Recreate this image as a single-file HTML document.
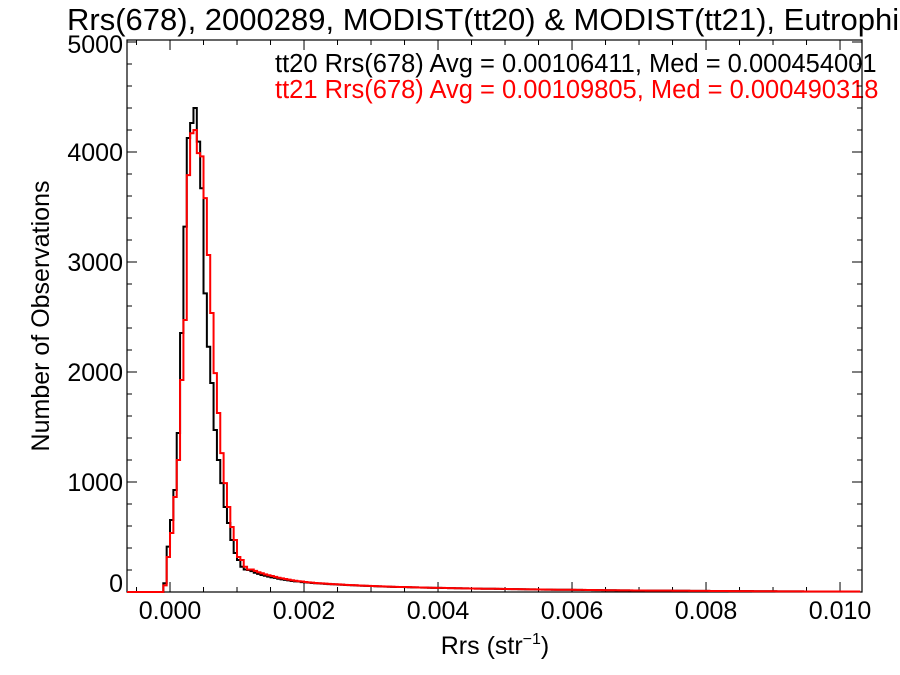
<!DOCTYPE html>
<html><head><meta charset="utf-8"><style>
body{margin:0;background:#fff;overflow:hidden}
svg{display:block;font-family:"Liberation Sans",sans-serif}
</style></head><body>
<svg id="chart" width="900" height="675" viewBox="0 0 900 675">
<text x="67" y="30" font-size="31">Rrs(678), 2000289, MODIST(tt20) &amp; MODIST(tt21), Eutrophic</text>
<text x="275" y="72" font-size="25.5" fill="#000">tt20 Rrs(678) Avg = 0.00106411, Med = 0.000454001</text>
<text x="275" y="98" font-size="25.5" fill="#ff0000">tt21 Rrs(678) Avg = 0.00109805, Med = 0.000490318</text>
<text x="495" y="654" font-size="25" text-anchor="middle">Rrs (str<tspan dy="-10" font-size="16">−1</tspan><tspan dy="10">)</tspan></text>
<text transform="translate(49,316) rotate(-90)" font-size="25" text-anchor="middle">Number of Observations</text>
<g id="axes"></g>
<g id="series"></g>
</svg>
<script>
const binStart = -0.0001;
const binWidth = 0.00005;
const blackPeak = [79,412,655,927,1445,2355,3321,4127,4264,4400,4094,3670,2715,2230,1900,1473,1200,990,773,627,473,355,291,230,205,200];
const redPeak = [60,318,536,864,1200,1927,2473,3790,4170,4200,3990,3960,3580,3064,2536,1990,1627,1263,990,773,591,473,318,291,230,205];
const blackTail = [190,175,165,155,148,140,133,128,120,115,110,106,100,97,95,90,88,85,82,80,78,76,74,72,70,69,67,66,64,62,61,60,58,57,56,55,54,52,51,50,49,48,47,46,46,45,44,43,42,42,41,40,40,39,38,38,37,36,36,35,35,34,34,33,33,32,32,31,31,30,30,29,29,28,28,27,27,26,26,26,25,25,24,24,24,23,23,22,22,22,21,21,21,20,20,20,19,19,19,18,18,18,17,17,17,16,16,16,16,15,15,15,15,14,14,14,14,13,13,13,13,12,12,12,12,12,11,11,11,11,11,10,10,10,10,10,10,9,9,9,9,9,9,8,8,8,8,8,8,8,7,7,7,7,7,7,7,6,6,6,6,6,6,6,6,5,5,5,5,5,5,5,5,5,5,5,4,4,4,4,4,4];
const redTail = [205,192,180,170,160,152,145,138,130,124,118,112,107,102,98,95,91,88,85,82,80,78,76,74,72,70,69,67,65,64,62,61,59,58,57,56,54,53,52,51,50,49,48,47,46,45,45,44,43,42,41,41,40,39,39,38,37,37,36,35,35,34,34,33,33,32,32,31,31,30,30,30,29,29,28,28,27,27,26,26,26,25,25,24,24,24,23,23,22,22,22,21,21,20,20,20,20,19,19,19,18,18,18,17,17,17,16,16,16,16,15,15,15,15,14,14,14,14,13,13,13,12,12,12,12,12,11,11,11,11,11,10,10,10,10,10,10,9,9,9,9,9,9,8,8,8,8,8,8,8,7,7,7,7,7,7,7,6,6,6,6,6,6,6,6,5,5,5,5,5,5,5,5,5,5,5,4,4,4,4,4,4];
const xTicks = [0,0.002,0.004,0.006,0.008,0.010];
const xTickLabels = ["0.000","0.002","0.004","0.006","0.008","0.010"];
const yTicks = [0,1000,2000,3000,4000,5000];
const yTickLabels = ["0","1000","2000","3000","4000","5000"];

const L=127,R=862,T=40,B=592;
const xMin=-0.000642, xMax=0.010328, yMin=0, yMax=5018;
const sx=v=>L+(v-xMin)/(xMax-xMin)*(R-L);
const sy=v=>B-(v-yMin)/(yMax-yMin)*(B-T);
const NS='http://www.w3.org/2000/svg';
function mk(tag,attrs,parent){const e=document.createElementNS(NS,tag);for(const k in attrs)e.setAttribute(k,attrs[k]);parent.appendChild(e);return e;}
const axes=document.getElementById('axes'), series=document.getElementById('series');

const frame=mk('rect',{x:L,y:T,width:R-L,height:B-T,fill:'none',stroke:'#000','stroke-width':1.2},axes);



let d='';
xTicks.forEach((v,i)=>{const x=sx(v);d+=`M${x},${B}v-10M${x},${T}v10`;
 const t=mk('text',{x:x,y:B+27,'font-size':25,'text-anchor':'middle'},axes);t.textContent=xTickLabels[i];
 
 });
for(let v=-0.0005;v<=xMax;v+=0.0005){const x=sx(v);d+=`M${x},${B}v-5M${x},${T}v5`;}
yTicks.forEach((v,i)=>{const y=sy(v);d+=`M${L},${y}h10M${R},${y}h-10`;
 const t=mk('text',{x:L-4,y:y+9-(v===0?9:0)-(v===5000?-2:0),'font-size':25,'text-anchor':'end'},axes);t.textContent=yTickLabels[i];
 
 });
for(let v=200;v<yMax;v+=200){const y=sy(v);d+=`M${L},${y}h5M${R},${y}h-5`;}
const ticks=mk('path',{d:d,stroke:'#000','stroke-width':1,fill:'none'},axes);



function hist(vals,color,name){
 let p=`M${L},${sy(0)}H${sx(binStart)}`;
 vals.forEach((v,i)=>{const x1=sx(binStart+(i+1)*binWidth);p+=`V${sy(v)}H${Math.min(x1,R)}`;});
 const e=mk('path',{d:p,fill:'none',stroke:color,'stroke-width':2},series);
 
 
}
hist(blackPeak.concat(blackTail),'#000','histogram-tt20');
hist(redPeak.concat(redTail),'#ff0000','histogram-tt21');
</script>
</body></html>
